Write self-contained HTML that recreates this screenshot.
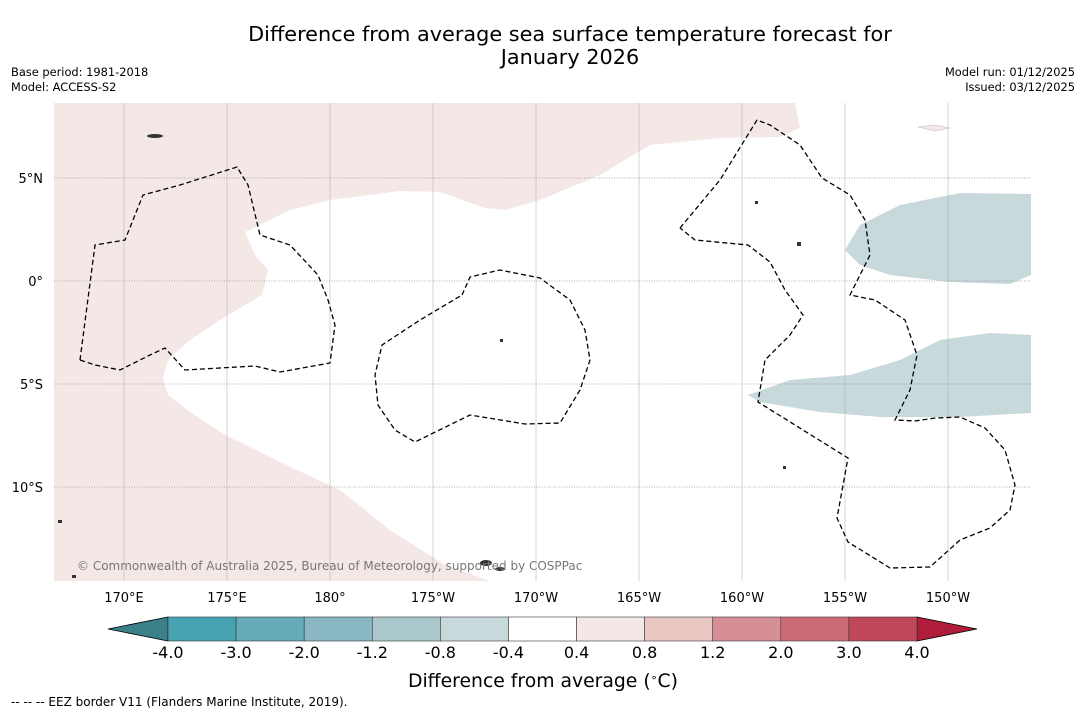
<!DOCTYPE html>
<html><head><meta charset="utf-8"><style>
body{margin:0;background:#fff;font-family:"DejaVu Sans","Liberation Sans",sans-serif}
svg{display:block}
</style></head><body>
<svg id="c" width="1085" height="713" xmlns="http://www.w3.org/2000/svg" font-family="DejaVu Sans,sans-serif">
<text x="570" y="41" font-size="20.8" text-anchor="middle">Difference from average sea surface temperature forecast for</text>
<text x="570" y="64" font-size="20.8" text-anchor="middle">January 2026</text>
<text x="11" y="76" font-size="11.4">Base period: 1981-2018</text>
<text x="11" y="91" font-size="11.4">Model: ACCESS-S2</text>
<text x="1075" y="76" font-size="11.4" text-anchor="end">Model run: 01/12/2025</text>
<text x="1075" y="91" font-size="11.4" text-anchor="end">Issued: 03/12/2025</text>
<g id="map">
<rect x="54" y="103" width="977" height="478" fill="#fff"/>
<polygon fill="#f4e8e7" points="54,103 795,103 800,128 780,137 720,138 650,145 600,175 540,200 505,210 485,208 440,192 400,191 330,200 290,210 245,232 255,255 268,270 262,295 220,320 190,340 168,360 163,378 168,395 190,412 225,435 280,462 340,490 390,530 445,565 490,581 54,581"/>
<polygon fill="#c8d9dc" points="845,250 860,225 900,205 960,193 1031,194 1031,275 1010,284 950,282 890,275 860,265"/>
<polygon fill="#c8d9dc" points="748,395 790,380 850,375 900,360 940,340 990,333 1031,335 1031,413 960,417 880,417 820,412 760,402"/>
<polygon fill="#f4e8e7" stroke="#bbb" stroke-width="0.5" points="918,127 935,125 950,128 935,131"/>
<g id="grid"></g>
<g fill="none" stroke="#000" stroke-width="1.3" stroke-dasharray="5,3">
<polyline points="80,360 95,245 125,240 143,195 180,185 237,167 248,185 260,235 290,245 318,275 328,300 335,325 330,363 280,372 255,366 185,370 165,348 150,355 120,370 95,365 80,360"/>
<polyline points="462,295 470,277 500,270 540,278 570,300 585,330 590,360 580,390 560,423 525,424 470,415 415,442 395,430 378,405 375,375 382,345 420,320 462,295"/>
<polyline points="680,228 720,180 757,120 770,125 800,145 822,178 850,195 865,220 870,255 850,295 875,300 905,320 917,355 910,390 895,420 915,421 935,418 960,417 985,428 1005,450 1015,485 1010,510 990,528 960,540 930,567 890,568 848,542 837,518 848,458 758,402 765,360 790,335 803,315 785,290 770,262 748,245 695,240 680,228"/>
</g>
<g fill="#333">
<ellipse cx="486" cy="563" rx="6" ry="3"/><ellipse cx="500" cy="569" rx="5" ry="2"/><ellipse cx="155" cy="136" rx="8" ry="2"/><rect x="58" y="520" width="4" height="3"/><rect x="72" y="575" width="4" height="3"/><rect x="797" y="242" width="4" height="4"/><rect x="755" y="201" width="3" height="3"/><rect x="783" y="466" width="3" height="3"/><rect x="500" y="339" width="3" height="3"/>
</g>
<text x="77" y="570" font-size="12" fill="#777">© Commonwealth of Australia 2025, Bureau of Meteorology, supported by COSPPac</text>
</g>
<g id="axes"></g>
<g id="cbar"></g>
<text x="543" y="687" font-size="18.8" text-anchor="middle">Difference from average (<tspan baseline-shift="super" font-size="11">∘</tspan>C)</text>
<text x="11" y="706" font-size="12">--  --  -- EEZ border V11 (Flanders Marine Institute, 2019).</text>
</svg>
<script>
const lonTicks=[170,175,180,185,190,195,200,205,210];
const lonLabels=["170°E","175°E","180°","175°W","170°W","165°W","160°W","155°W","150°W"];
const latTicks=[5,0,-5,-10];
const latLabels=["5°N","0°","5°S","10°S"];
const cbarLevels=["-4.0","-3.0","-2.0","-1.2","-0.8","-0.4","0.4","0.8","1.2","2.0","3.0","4.0"];
const cbarColors=["#47a3b1","#66abb8","#89b7c2","#aac7cc","#c8d9dc","#ffffff","#f4e8e7","#e9c7c2","#d78f97","#cc6a76","#be4758"];
const NS="http://www.w3.org/2000/svg";
const xLon=l=>124+(l-170)*20.6;
const yLat=l=>281-l*20.6;
function mk(t,a,p){const e=document.createElementNS(NS,t);for(const k in a)e.setAttribute(k,a[k]);p.appendChild(e);return e;}
const grid=document.getElementById('grid'),axes=document.getElementById('axes'),cb=document.getElementById('cbar');
lonTicks.forEach((l,i)=>{
 const ln=mk('line',{x1:xLon(l),x2:xLon(l),y1:103,y2:581,stroke:'#aaa','stroke-width':0.5},grid);
 
 
 const t=mk('text',{x:xLon(l),y:602,'font-size':13,'text-anchor':'middle'},axes);
 t.textContent=lonLabels[i];
 
 
});
latTicks.forEach((l,i)=>{
 const ln=mk('line',{x1:54,x2:1031,y1:yLat(l),y2:yLat(l),stroke:'#666','stroke-width':0.6,'stroke-dasharray':'1,1.5'},grid);
 
 
 const t=mk('text',{x:43,y:yLat(l)+5,'font-size':13,'text-anchor':'end'},axes);
 t.textContent=latLabels[i];
 
 
});
const x0=168,x1=917,y0=617,h=24,n=cbarColors.length,w=(x1-x0)/n;
const lt=mk('polygon',{points:`108,${y0+h/2} ${x0},${y0} ${x0},${y0+h}`,fill:'#3b7f88',stroke:'#000','stroke-width':0.8},cb);


const rt=mk('polygon',{points:`977,${y0+h/2} ${x1},${y0} ${x1},${y0+h}`,fill:'#b01d3a',stroke:'#000','stroke-width':0.8},cb);


cbarColors.forEach((c,i)=>{
 const r=mk('rect',{x:x0+i*w,y:y0,width:w,height:h,fill:c,stroke:'#333','stroke-width':0.6},cb);
 
 
});
cbarLevels.forEach((v,i)=>{
 const t=mk('text',{x:x0+i*w,y:658,'font-size':16,'text-anchor':'middle'},cb);
 t.textContent=v;
 
 
});
</script>
</body></html>
